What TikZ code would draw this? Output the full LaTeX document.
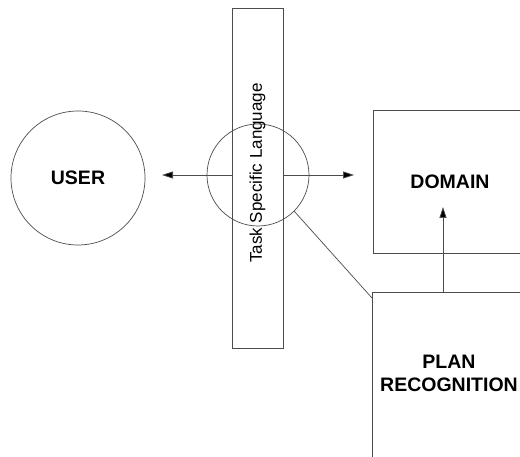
\documentclass[tikz,border=0pt]{standalone}
\usepackage{fontspec}
\setmainfont{Liberation Sans}
\usetikzlibrary{arrows.meta}
\begin{document}
\begin{tikzpicture}[x=1pt,y=-1pt,
  edge/.style={draw=black!70, line width=0.7pt},
  conn/.style={edge, -{Triangle[length=11pt,width=7pt,fill=black]}},
  bigtxt/.style={font=\fontsize{19.5}{23}\selectfont\bfseries, align=center},
  box/.style={edge, rectangle, inner sep=0pt}]
\useasboundingbox (0,0) rectangle (520,457);
\clip (0,0) rectangle (520,457);
\fill[white] (0,0) rectangle (520,457);

% user
\node[edge, circle, minimum size=134pt, inner sep=0pt, bigtxt] (user) at (78,178) {USER};

% task specific language bar and its circle
\node[box, minimum width=51pt, minimum height=340pt] (bar) at (257.5,178) {};
\node[edge, circle, minimum size=102pt, inner sep=0pt] (lang) at (258,175) {};
\node[rotate=90, font=\fontsize{17}{20}\selectfont] (barlabel) at (257.5,173) {Task Specific Language};

% domain and plan recognition boxes (right side runs past the page)
\node[box, minimum width=160pt, minimum height=143pt, anchor=north west] (domain) at (373,110) {};
\node[bigtxt] (domaintxt) at (450,182) {DOMAIN};
\node[box, minimum width=160pt, minimum height=180pt, anchor=north west] (plan) at (372,292) {};
\node[bigtxt] (plantxt) at (449,373) {PLAN\\RECOGNITION};

% connectors
\coordinate (ltip) at (162,175);
\coordinate (rtip) at (354,175);
\coordinate (utip) at (443,207);
\coordinate (pfoot) at (443,292);
\coordinate (pside) at (372,298);
\draw[conn] (bar.west |- lang.center) -- (ltip);
\draw[conn] (bar.east |- lang.center) -- (rtip);
\draw[conn] (pfoot) -- (utip);
\draw[edge] (lang.-45) -- (pside);
\end{tikzpicture}
\end{document}
